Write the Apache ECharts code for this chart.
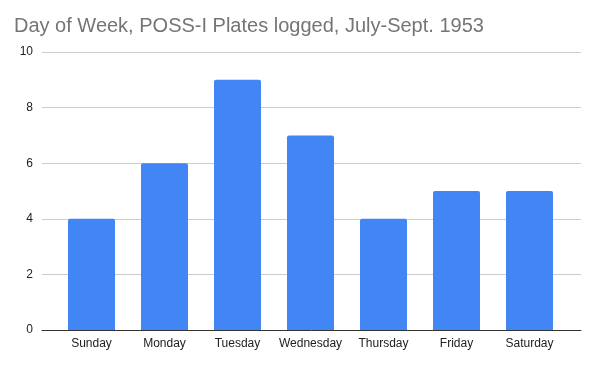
<!DOCTYPE html>
<html><head><meta charset="utf-8">
<script src="https://cdn.jsdelivr.net/npm/echarts@6/dist/echarts.min.js"></script>
<style>html,body{margin:0;padding:0;background:#fff}#c{width:593px;height:366px}</style>
</head><body><div id="c"></div>
<script>
const titleText = "Day of Week, POSS-I Plates logged, July-Sept. 1953";
const days = ["Sunday","Monday","Tuesday","Wednesday","Thursday","Friday","Saturday"];
const plates = [4, 6, 9, 7, 4, 5, 5];
const yTicks = [0, 2, 4, 6, 8, 10];

const font = "Liberation Sans, Arial, sans-serif";
const chart = echarts.init(document.getElementById('c'), null, {renderer:'canvas'});
chart.setOption({
  animation:false,
  backgroundColor:'#fff',
  title:{text:titleText,left:9,top:11,textStyle:{fontFamily:font,fontSize:20,fontWeight:'normal',color:'#757575'}},
  grid:[
    {left:42,right:12,top:52,bottom:36},
    {left:55,right:27,top:52,bottom:36}
  ],
  xAxis:[
    {gridIndex:0,type:'value',min:0,max:1,show:true,axisLine:{show:true,onZero:false,lineStyle:{color:'#333',width:1}},axisTick:{show:false},axisLabel:{show:false},splitLine:{show:false}},
    {gridIndex:1,type:'category',data:days,axisLine:{show:false},axisTick:{show:false},
     axisLabel:{interval:0,margin:8,fontFamily:font,fontSize:12,color:'#222'}}
  ],
  yAxis:[
    {gridIndex:0,type:'value',min:yTicks[0],max:yTicks[yTicks.length-1],interval:2,
     axisLine:{show:false},axisTick:{show:false},
     axisLabel:{margin:9,fontFamily:font,fontSize:12,color:'#222'},
     splitLine:{lineStyle:{color:'#cccccc',width:1}}},
    {gridIndex:1,type:'value',min:0,max:10,show:false,splitLine:{show:false}}
  ],
  series:[{
    type:'bar',xAxisIndex:1,yAxisIndex:1,data:plates,barWidth:47,
    itemStyle:{color:'#4285F4',borderRadius:[2,2,0,0]},z:3
  }]
});
</script></body></html>
